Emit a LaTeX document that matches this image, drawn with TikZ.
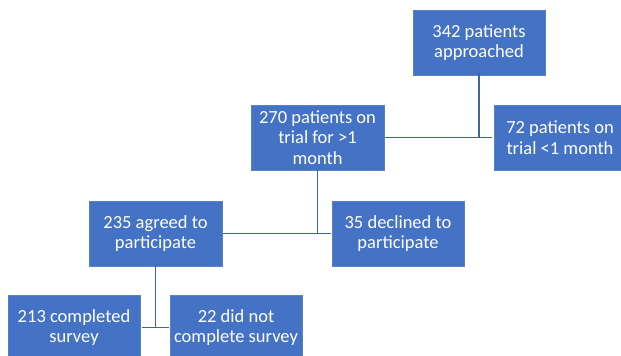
\documentclass[tikz,border=0pt]{standalone}
\usepackage{fontspec}
\setmainfont{Carlito}
\definecolor{boxblue}{HTML}{4472C4}
\definecolor{boxedge}{HTML}{5A80C8}
\definecolor{linkblue}{HTML}{3E65AC}
\begin{document}
\begin{tikzpicture}[x=1pt,y=-1pt,
  box/.style={draw=boxedge,line width=0.6pt,fill=boxblue,text=white,align=center,
    inner sep=0pt,minimum height=65pt,
    font=\fontsize{18.5}{20.7}\selectfont},
  link/.style={draw=linkblue,line width=1.4pt}]
\useasboundingbox (0,0) rectangle (621,356);
\begin{scope}
\clip (0,0) rectangle (621,356);
\node[box,minimum width=132pt] (top) at (479,42.5) {342 patients\\approached};
\node[box,minimum width=133pt] (n270) at (317.5,137.5) {270 patients on\\trial for >1\\month};
\node[box,minimum width=127pt] (n72) at (557.5,137.5) {\hspace*{5pt}72 patients on\\\hspace*{5pt}trial <1 month};
\node[box,minimum width=133pt] (n235) at (155.5,233.5) {235 agreed to\\participate};
\node[box,minimum width=132pt] (n35) at (398,233.5) {35 declined to\\participate};
\node[box,minimum width=132pt] (n213) at (74,327.5) {213 completed\\survey};
\node[box,minimum width=132pt] (n22) at (236,327.5) {22 did not\\complete survey};
\coordinate (j1) at (top.south |- n270.east);
\coordinate (j2) at (n270.south |- n235.east);
\coordinate (j3) at (n235.south |- n213.east);
\draw[link] ([yshift=2pt]top.south) -- (j1);
\draw[link] ([xshift=1pt]n270.east) -- ([xshift=-2pt]n72.west);
\draw[link] ([yshift=1pt]n270.south) -- (j2);
\draw[link] ([xshift=1pt]n235.east) -- ([xshift=-1pt]n35.west);
\draw[link] ([yshift=2pt]n235.south) -- (j3);
\draw[link] ([xshift=2pt]n213.east) -- ([xshift=-1pt]n22.west);
\end{scope}
\end{tikzpicture}
\end{document}
